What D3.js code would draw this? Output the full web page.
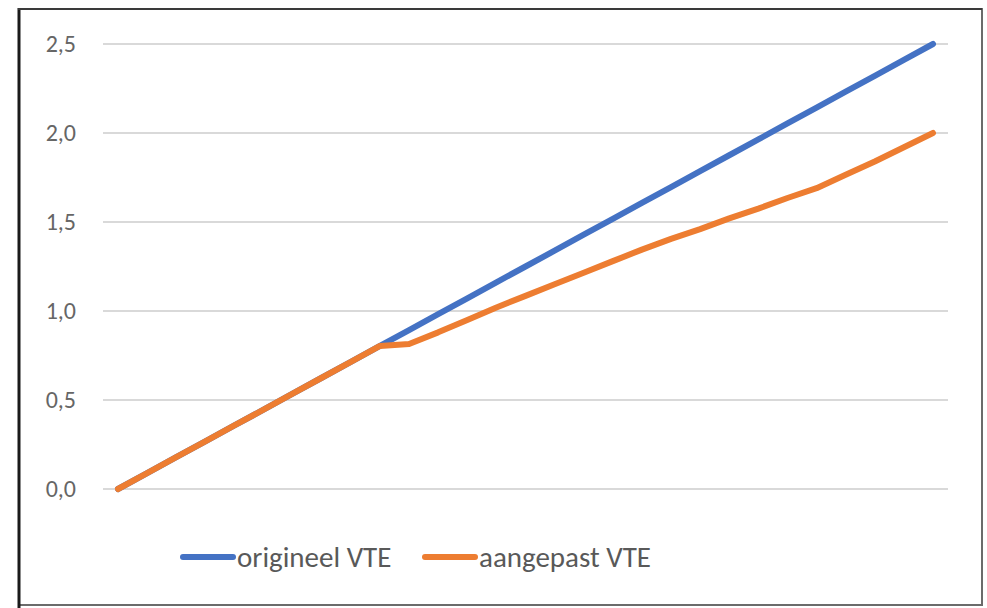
<!DOCTYPE html>
<html>
<head>
<meta charset="utf-8">
<script src="https://cdn.jsdelivr.net/npm/d3@7"></script>
<style>
  html, body { margin: 0; padding: 0; background: #fff; }
</style>
</head>
<body>
<div id="chart"></div>
<script>
// x categories (unlabelled in the original)
const xValues = [0, 1, 2, 3, 4, 5, 6, 7, 8, 9, 10, 11, 12, 13, 14, 15, 16, 17, 18, 19, 20, 21, 22, 23, 24, 25, 26, 27, 28];
const origineel = [0, 0.089, 0.179, 0.268, 0.357, 0.446, 0.536, 0.625, 0.714, 0.804, 0.893, 0.982, 1.071, 1.161, 1.25, 1.339, 1.429, 1.518, 1.607, 1.696, 1.786, 1.875, 1.964, 2.054, 2.143, 2.232, 2.321, 2.411, 2.5];
const aangepast = [0, 0.089, 0.179, 0.268, 0.357, 0.446, 0.536, 0.625, 0.714, 0.804, 0.815, 0.88, 0.95, 1.02, 1.085, 1.15, 1.215, 1.28, 1.345, 1.405, 1.46, 1.52, 1.575, 1.635, 1.69, 1.765, 1.84, 1.92, 2.0];
const yTicks = [0, 0.5, 1.0, 1.5, 2.0, 2.5];
const seriesNames = ["origineel VTE", "aangepast VTE"];
const colours = ["#4472C4", "#ED7D31"];

const width = 987, height = 608;
const fontFamily = "Carlito, Calibri, 'Liberation Sans Narrow', 'DejaVu Sans Condensed', sans-serif";

const svg = d3.select("#chart")
    .append("svg")
    .attr("width", width)
    .attr("height", height);

// frame
svg.append("rect")
    .attr("x", 19).attr("y", 9)
    .attr("width", 963).attr("height", 596)
    .attr("fill", "#fff")
    .attr("stroke", "#6b6b6b")
    .attr("stroke-width", 2);
svg.append("line")
    .attr("x1", 19).attr("x2", 19)
    .attr("y1", 8).attr("y2", 608)
    .attr("stroke", "#1a1a1a")
    .attr("stroke-width", 3);
svg.append("line")
    .attr("x1", 18).attr("x2", 982)
    .attr("y1", 9).attr("y2", 9)
    .attr("stroke", "#3a3a3a")
    .attr("stroke-width", 2);

const xScale = d3.scaleLinear()
    .domain([d3.min(xValues), d3.max(xValues)])
    .range([118, 933]);

const yScale = d3.scaleLinear()
    .domain([0, 2.5])
    .range([489, 44]);

// gridlines
svg.append("g")
    .selectAll("line")
    .data(yTicks)
    .join("line")
    .attr("x1", 103).attr("x2", 948)
    .attr("y1", d => yScale(d)).attr("y2", d => yScale(d))
    .attr("stroke", "#d9d9d9")
    .attr("stroke-width", 2);

// y axis labels
const yAxis = d3.axisLeft(yScale)
    .tickValues(yTicks)
    .tickSize(0)
    .tickPadding(0)
    .tickFormat(d => d3.format(".1f")(d).replace(".", ","));

const yG = svg.append("g")
    .attr("transform", "translate(76,0)")
    .call(yAxis);
yG.select(".domain").remove();
yG.selectAll("text")
    .style("font-family", fontFamily)
    .style("font-size", "24px")
    .attr("fill", "#666666");

// lines
const lineGen = d3.line()
    .x((d, i) => xScale(xValues[i]))
    .y(d => yScale(d));

[origineel, aangepast].forEach((s, i) => {
    svg.append("path")
        .datum(s)
        .attr("fill", "none")
        .attr("stroke", colours[i])
        .attr("stroke-width", 6)
        .attr("stroke-linecap", "round")
        .attr("stroke-linejoin", "round")
        .attr("d", lineGen);
});

// legend
const legendX = [183, 425];
const legend = svg.append("g");
seriesNames.forEach((name, i) => {
    legend.append("line")
        .attr("x1", legendX[i]).attr("x2", legendX[i] + 50)
        .attr("y1", 557).attr("y2", 557)
        .attr("stroke", colours[i])
        .attr("stroke-width", 6)
        .attr("stroke-linecap", "round");
    legend.append("text")
        .attr("x", legendX[i] + 54)
        .attr("y", 557)
        .attr("dy", "0.35em")
        .style("font-family", fontFamily)
        .style("font-size", "29px")
        .attr("fill", "#595959")
        .text(name);
});
</script>
</body>
</html>
